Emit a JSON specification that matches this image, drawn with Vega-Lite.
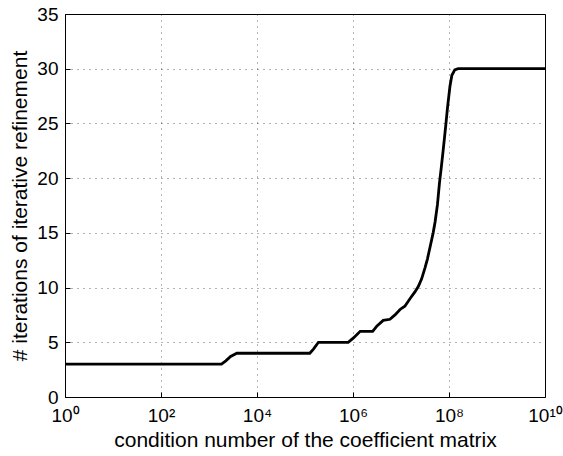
{
  "$schema": "https://vega.github.io/schema/vega-lite/v6.json",
  "width": 480,
  "height": 383,
  "autosize": "none",
  "padding": {"left": 65, "top": 14, "right": 18, "bottom": 59},
  "background": "white",
  "config": {
    "font": "Liberation Sans",
    "view": {"stroke": "#000", "strokeWidth": 1},
    "axis": {
      "domainColor": "#000",
      "tickColor": "#000",
      "labelColor": "#000",
      "titleColor": "#000",
      "labelFont": "Liberation Sans",
      "titleFont": "Liberation Sans",
      "labelFontSize": 19,
      "titleFontSize": 21,
      "titleFontWeight": "normal",
      "grid": true,
      "gridColor": "#000",
      "gridOpacity": 0.6,
      "gridDash": [1, 5],
      "gridWidth": 1
    }
  },
  "data": {
    "values": [
      {"cond": 1, "iters": 3},
      {"cond": 1820, "iters": 3},
      {"cond": 2239, "iters": 3.3},
      {"cond": 2818, "iters": 3.7},
      {"cond": 3802, "iters": 4},
      {"cond": 125900, "iters": 4},
      {"cond": 151400, "iters": 4.4},
      {"cond": 190500, "iters": 5},
      {"cond": 794300, "iters": 5},
      {"cond": 1023000, "iters": 5.4},
      {"cond": 1413000, "iters": 6},
      {"cond": 2570000, "iters": 6},
      {"cond": 3162000, "iters": 6.5},
      {"cond": 4266000, "iters": 7},
      {"cond": 5888000, "iters": 7.1},
      {"cond": 7499000, "iters": 7.5},
      {"cond": 9550000, "iters": 8.0},
      {"cond": 12020000, "iters": 8.3},
      {"cond": 15490000, "iters": 9.0},
      {"cond": 19500000, "iters": 9.6},
      {"cond": 22910000, "iters": 10.1},
      {"cond": 26920000, "iters": 10.8},
      {"cond": 31620000, "iters": 11.8},
      {"cond": 35480000, "iters": 12.6},
      {"cond": 39810000, "iters": 13.6},
      {"cond": 46770000, "iters": 15},
      {"cond": 51290000, "iters": 16},
      {"cond": 57540000, "iters": 17.6},
      {"cond": 63100000, "iters": 19.5},
      {"cond": 69180000, "iters": 21},
      {"cond": 75860000, "iters": 22.6},
      {"cond": 85110000, "iters": 24.7},
      {"cond": 93330000, "iters": 26.5},
      {"cond": 104700000, "iters": 28.4},
      {"cond": 114800000, "iters": 29.4},
      {"cond": 131800000, "iters": 29.9},
      {"cond": 154900000, "iters": 30},
      {"cond": 10000000000, "iters": 30}
    ]
  },
  "mark": {"type": "line", "color": "#000", "strokeWidth": 2.8, "clip": true},
  "encoding": {
    "x": {
      "field": "cond",
      "type": "quantitative",
      "scale": {"type": "log", "domain": [1, 10000000000], "nice": false},
      "axis": {
        "title": "condition number of the coefficient matrix",
        "values": [1, 100, 10000, 1000000, 100000000, 10000000000],
        "labelExpr": "datum.value < 10 ? '10⁰' : datum.value < 1000 ? '10²' : datum.value < 100000 ? '10⁴' : datum.value < 10000000 ? '10⁶' : datum.value < 1000000000 ? '10⁸' : '10¹⁰'",
        "labelPadding": 14,
        "labelFlush": false,
        "titlePadding": 4,
        "tickSize": -5,
        "domain": false
      }
    },
    "y": {
      "field": "iters",
      "type": "quantitative",
      "scale": {"domain": [0, 35], "nice": false},
      "axis": {
        "title": "# iterations of iterative refinement",
        "values": [0, 5, 10, 15, 20, 25, 30, 35],
        "labelPadding": 12,
        "titlePadding": 6,
        "tickSize": -5,
        "domain": false
      }
    }
  }
}
